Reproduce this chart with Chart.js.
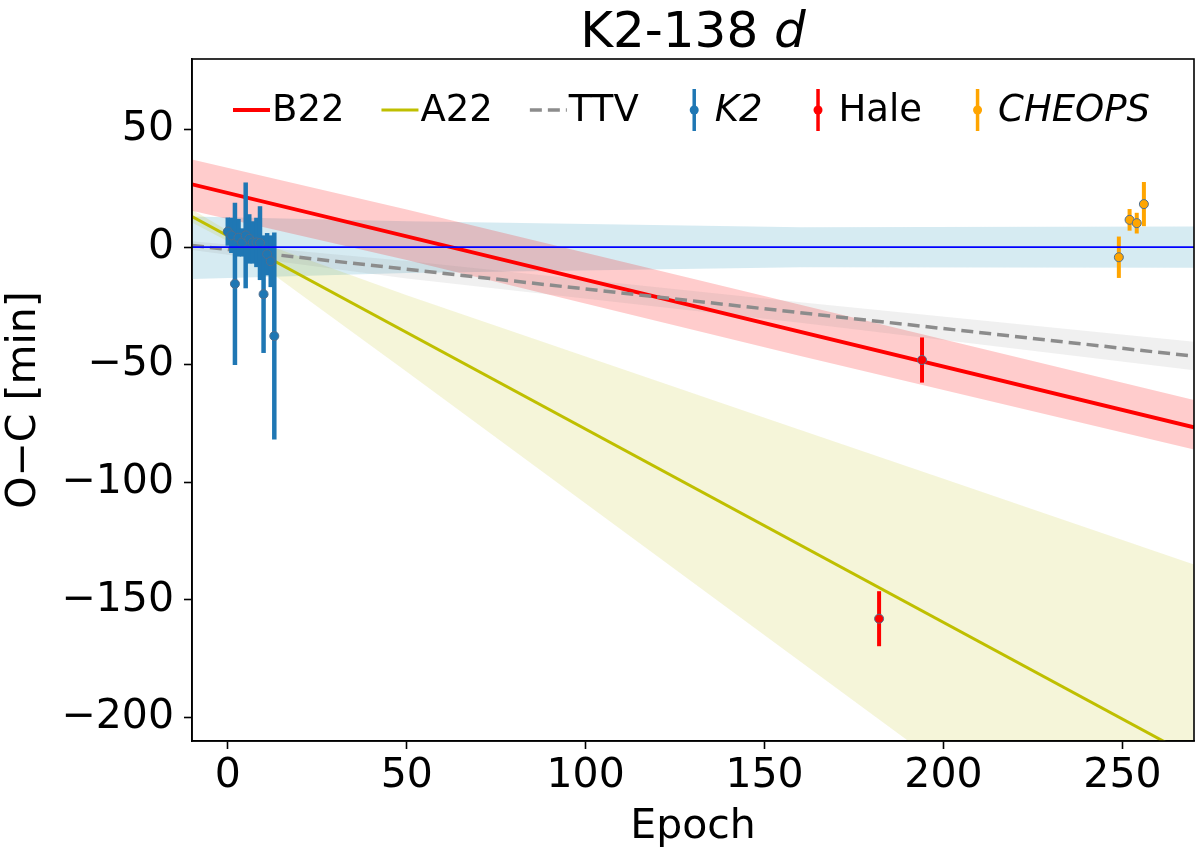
<!DOCTYPE html>
<html>
<head>
<meta charset="utf-8">
<title>K2-138 d</title>
<script src="https://cdn.jsdelivr.net/npm/chart.js@4.4.0/dist/chart.umd.min.js"></script>
<style>
  html, body { margin: 0; padding: 0; background: #fff; }
  #wrap { width: 1200px; height: 856px; }
</style>
</head>
<body>
<div id="wrap"><canvas id="ocChart"></canvas></div>
<script>
// observed transit times, O-C in minutes
const k2Epoch = [0, 1, 2, 3, 4, 5, 6, 7, 8, 9, 10, 11, 12, 13];
const k2Oc = [6.6, 5.0, -15.6, 4.0, 2.0, 5.0, 3.5, 2.0, 2.0, 1.7, -20.0, -3.0, -6.0, -37.8];
const k2Err = [6.0, 7.5, 34.5, 8.0, 6.0, 22.5, 10.5, 9.0, 10.5, 15.7, 25.0, 9.0, 11.0, 44.0];

const haleEpoch = [182, 194];
const haleOc = [-158, -48];
const haleErr = [11.7, 9.6];

const cheopsEpoch = [249, 252, 254, 256];
const cheopsOc = [-4.3, 11.6, 10.2, 18.3];
const cheopsErr = [8.8, 4.6, 4.4, 9.4];

// ephemeris models
const lineEpoch = [-10, 270];
const b22Line = [26.7, -76.6];
const a22Line = [13.0, -217.1];
const ttvLine = [0.7, -46.4];
const zeroLine = [0, 0];

const bandEpoch = [-10, 50, 160, 270];
const b22Upper = [37.3, 16.0, -24.5, -65.0];
const b22Lower = [15.5, -5.5, -46.3, -86.0];
const ttvUpper = [2.5, -5.9, -23.4, -40.2];
const ttvLower = [-1.2, -13.3, -32.2, -52.4];
const zeroUpper = [13.0, 11.0, 8.5, 8.8];
const zeroLower = [-13.5, -11.0, -8.5, -8.8];

const a22BandEpoch = [-10, 0, 50, 100, 150, 200, 270];
const a22Upper = [16.0, 7.0, -20.5, -46.5, -72.5, -98.5, -135.0];
const a22Lower = [10.5, 2.5, -53.0, -109.0, -165.0, -221.0, -300.0];

const xTicks = [0, 50, 100, 150, 200, 250];
const yTicks = [-200, -150, -100, -50, 0, 50];

const titleMain = "K2-138 ";
const titlePlanet = "d";
const legendOrder = [5, 6, 4, 1, 2, 3];
const italicLabels = ["K2", "CHEOPS"];

const FONT = "'DejaVu Sans', sans-serif";

function pts(xs, ys) {
    return xs.map(function (x, i) { return { x: x, y: ys[i] }; });
}

function lineSet(label, xs, ys, color, width, order, extra) {
    return Object.assign({
        label: label,
        data: pts(xs, ys),
        borderColor: color,
        borderWidth: width,
        pointRadius: 0,
        tension: 0,
        fill: false,
        clip: 0,
        order: order
    }, extra || {});
}

function pointSet(label, xs, ys, errs, color, barWidth, order) {
    return {
        label: label,
        data: pts(xs, ys),
        yErr: errs,
        errColor: color,
        errWidth: barWidth,
        showLine: false,
        pointRadius: 4.5,
        pointBackgroundColor: color,
        pointBorderColor: "#4f6f8f",
        pointBorderWidth: 1,
        borderColor: color,
        order: order
    };
}

function bandEdge(xs, ys, order, fillTarget, fillColor) {
    return {
        label: "",
        data: pts(xs, ys),
        borderWidth: 0,
        borderColor: "rgba(0,0,0,0)",
        pointRadius: 0,
        tension: 0,
        fill: fillTarget === null ? false : { target: fillTarget },
        backgroundColor: fillColor,
        order: order
    };
}

// vertical error bars, drawn right under their markers
const errorBars = {
    id: "errorBars",
    beforeDatasetDraw(chart, args) {
        const ds = chart.data.datasets[args.index];
        if (!ds.yErr) return;
        const xs = chart.scales.x, ys = chart.scales.y;
        const ctx = chart.ctx;
        const area = chart.chartArea;
        ctx.save();
        ctx.beginPath();
        ctx.rect(area.left, area.top, area.right - area.left, area.bottom - area.top);
        ctx.clip();
        ctx.strokeStyle = ds.errColor;
        ctx.lineWidth = ds.errWidth;
        ds.data.forEach(function (p, i) {
            const px = xs.getPixelForValue(p.x);
            ctx.beginPath();
            ctx.moveTo(px, ys.getPixelForValue(p.y + ds.yErr[i]));
            ctx.lineTo(px, ys.getPixelForValue(p.y - ds.yErr[i]));
            ctx.stroke();
        });
        ctx.restore();
    }
};

const legendBox = {
    id: "legendBox",
    afterDatasetsDraw(chart) {
        const ctx = chart.ctx;
        const area = chart.chartArea;
        let x = area.left + 41;
        const y = area.top + 51;
        ctx.save();
        ctx.textBaseline = "middle";
        ctx.textAlign = "left";
        legendOrder.forEach(function (i) {
            const ds = chart.data.datasets[i];
            if (ds.yErr) {
                const cx = x + 18.5;
                ctx.strokeStyle = ds.errColor;
                ctx.lineWidth = 3.5;
                ctx.setLineDash([]);
                ctx.beginPath();
                ctx.moveTo(cx, y - 21);
                ctx.lineTo(cx, y + 21);
                ctx.stroke();
                ctx.beginPath();
                ctx.arc(cx, y, 4.5, 0, Math.PI * 2);
                ctx.fillStyle = ds.pointBackgroundColor;
                ctx.fill();
            } else {
                ctx.strokeStyle = ds.borderColor;
                ctx.lineWidth = ds.borderWidth;
                ctx.setLineDash(ds.borderDash || []);
                ctx.beginPath();
                ctx.moveTo(x, y);
                ctx.lineTo(x + 37, y);
                ctx.stroke();
                ctx.setLineDash([]);
            }
            const italic = italicLabels.indexOf(ds.label) >= 0;
            ctx.font = (italic ? "italic " : "") + "37px " + FONT;
            ctx.fillStyle = "#000";
            ctx.fillText(ds.label, x + 39, y + 1);
            x += 39 + ctx.measureText(ds.label).width + 37;
        });
        ctx.restore();
    }
};

const frameAndTitle = {
    id: "frameAndTitle",
    beforeDraw(chart) {
        const ctx = chart.ctx;
        ctx.save();
        ctx.fillStyle = "#fff";
        ctx.fillRect(0, 0, chart.width, chart.height);
        ctx.restore();
    },
    afterDraw(chart) {
        const ctx = chart.ctx;
        const area = chart.chartArea;
        ctx.save();
        ctx.strokeStyle = "#000";
        ctx.lineWidth = 1.6;
        ctx.strokeRect(area.left, area.top, area.right - area.left, area.bottom - area.top);

        ctx.fillStyle = "#000";
        ctx.textBaseline = "alphabetic";
        ctx.font = "50px " + FONT;
        const w1 = ctx.measureText(titleMain).width;
        ctx.font = "italic 50px " + FONT;
        const w2 = ctx.measureText(titlePlanet).width;
        let tx = (area.left + area.right) / 2 - (w1 + w2) / 2;
        ctx.font = "50px " + FONT;
        ctx.fillText(titleMain, tx, 47);
        ctx.font = "italic 50px " + FONT;
        ctx.fillText(titlePlanet, tx + w1, 47);
        ctx.restore();
    }
};

document.addEventListener("DOMContentLoaded", function () {

    const datasets = [
        lineSet("zero", lineEpoch, zeroLine, "#0000ff", 1.8, 0),
        pointSet("K2", k2Epoch, k2Oc, k2Err, "#1f77b4", 4.5, 1),
        pointSet("Hale", haleEpoch, haleOc, haleErr, "#ff0000", 4, 1),
        pointSet("CHEOPS", cheopsEpoch, cheopsOc, cheopsErr, "#ffa500", 4, 1),
        lineSet("TTV", lineEpoch, ttvLine, "#8c8c8c", 3.5, 2, { borderDash: [12, 6] }),
        lineSet("B22", lineEpoch, b22Line, "#ff0000", 3.8, 3),
        lineSet("A22", lineEpoch, a22Line, "#bfbf00", 3, 4),
        bandEdge(bandEpoch, b22Lower, 10, null, null),
        bandEdge(bandEpoch, b22Upper, 10, 7, "rgba(255,0,0,0.2)"),
        bandEdge(a22BandEpoch, a22Lower, 11, null, null),
        bandEdge(a22BandEpoch, a22Upper, 11, 9, "rgba(191,191,0,0.15)"),
        bandEdge(bandEpoch, zeroLower, 12, null, null),
        bandEdge(bandEpoch, zeroUpper, 12, 11, "rgba(173,216,230,0.5)"),
        bandEdge(bandEpoch, ttvLower, 9, null, null),
        bandEdge(bandEpoch, ttvUpper, 9, 13, "rgba(128,128,128,0.12)")
    ];

    const ctx = document.getElementById("ocChart").getContext("2d");

    new Chart(ctx, {
        type: "line",
        data: { datasets: datasets },
        plugins: [errorBars, legendBox, frameAndTitle],
        options: {
            responsive: true,
            maintainAspectRatio: false,
            animation: false,
            layout: { padding: { top: 59, right: 6, left: 0, bottom: 0 } },
            plugins: {
                legend: { display: false },
                tooltip: { enabled: false },
                title: { display: false }
            },
            scales: {
                x: {
                    type: "linear",
                    min: -10,
                    max: 270,
                    afterBuildTicks: function (s) { s.ticks = xTicks.map(function (v) { return { value: v }; }); },
                    afterFit: function (s) { s.height = 115; },
                    ticks: {
                        color: "#000",
                        font: { family: FONT, size: 41 },
                        padding: 3,
                        maxRotation: 0,
                        autoSkip: false
                    },
                    grid: { drawOnChartArea: false, tickLength: 8, tickColor: "#000", tickWidth: 1.6 },
                    border: { color: "#000", width: 1.6 },
                    title: {
                        display: true,
                        text: "Epoch",
                        color: "#000",
                        font: { family: FONT, size: 41 },
                        padding: { top: 0, bottom: 4 }
                    }
                },
                y: {
                    type: "linear",
                    min: -210,
                    max: 80,
                    afterBuildTicks: function (s) { s.ticks = yTicks.map(function (v) { return { value: v }; }); },
                    afterFit: function (s) { s.width = 192; },
                    ticks: {
                        color: "#000",
                        font: { family: FONT, size: 41 },
                        padding: 10,
                        autoSkip: false,
                        callback: function (v) { return String(v).replace("-", "\u2212"); }
                    },
                    grid: { drawOnChartArea: false, tickLength: 8, tickColor: "#000", tickWidth: 1.6 },
                    border: { color: "#000", width: 1.6 },
                    title: {
                        display: true,
                        text: "O\u2212C [min]",
                        color: "#000",
                        font: { family: FONT, size: 41 },
                        padding: { top: 0, bottom: 0 }
                    }
                }
            }
        }
    });
});
</script>
</body>
</html>
